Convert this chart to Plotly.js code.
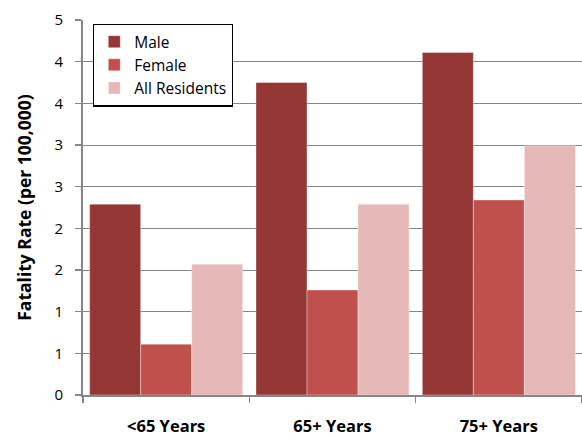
<!DOCTYPE html>
<html>
<head>
<meta charset="utf-8">
<script src="https://cdn.plot.ly/plotly-3.0.1.min.js"></script>
<style>html,body{margin:0;padding:0;background:#fff;}#chart{width:582px;height:440px;}</style>
</head>
<body>
<div id="chart"></div>
<script>
const categories = ["<65 Years", "65+ Years", "75+ Years"];
const male = [2.29, 3.75, 4.11];
const female = [0.61, 1.26, 2.34];
const allResidents = [1.57, 2.29, 2.99];
const tickValues = [0, 0.5, 1, 1.5, 2, 2.5, 3, 3.5, 4, 4.5];
const tickLabels = ["0", "1", "1", "2", "2", "3", "3", "4", "4", "5"];

const font = "'Open Sans', 'Liberation Sans', sans-serif";
const lineStyle = {color: "rgba(255,255,255,0.45)", width: 0.8};

const traces = [
  {type: "bar", name: "Male", x: categories, y: male, marker: {color: "#953735", line: lineStyle}},
  {type: "bar", name: "Female", x: categories, y: female, marker: {color: "#C0504D", line: lineStyle}},
  {type: "bar", name: "All Residents", x: categories, y: allResidents, marker: {color: "#E6B9B8", line: lineStyle}}
];

const layout = {
  width: 582, height: 440,
  margin: {l: 83, r: 0, t: 20, b: 45},
  paper_bgcolor: "#fff", plot_bgcolor: "#fff",
  barmode: "group", bargap: 0.08, bargroupgap: 0,
  font: {family: font, color: "#000", size: 13},
  showlegend: true,
  legend: {
    x: 0.02, y: 0.99, xanchor: "left", yanchor: "top",
    bordercolor: "#000", borderwidth: 1.3, bgcolor: "#fff",
    font: {family: font, size: 15.5, color: "#000"},
    tracegroupgap: 0
  },
  xaxis: {
    type: "category",
    showline: true, linecolor: "#868686", linewidth: 2,
    ticks: "outside", tickson: "boundaries", ticklen: 6, tickcolor: "#868686", tickwidth: 1.5,
    showgrid: false, zeroline: false,
    tickfont: {family: font, size: 16.5, color: "#000", weight: "bold"},
    ticklabelstandoff: 15
  },
  yaxis: {
    range: [0, 4.5], autorange: false,
    tickmode: "array", tickvals: tickValues, ticktext: tickLabels,
    showline: true, linecolor: "#868686", linewidth: 2,
    ticks: "outside", ticklen: 6, tickcolor: "#868686", tickwidth: 1.5,
    showgrid: true, gridcolor: "#868686", gridwidth: 1,
    zeroline: false,
    ticklabelstandoff: 9,
    tickfont: {family: font, size: 15, color: "#000"},
    title: {text: "Fatality Rate (per 100,000)", font: {family: font, size: 17.5, color: "#000", weight: "bold"}, standoff: 18}
  }
};

Plotly.newPlot("chart", traces, layout, {displayModeBar: false, staticPlot: true});
</script>
</body>
</html>
